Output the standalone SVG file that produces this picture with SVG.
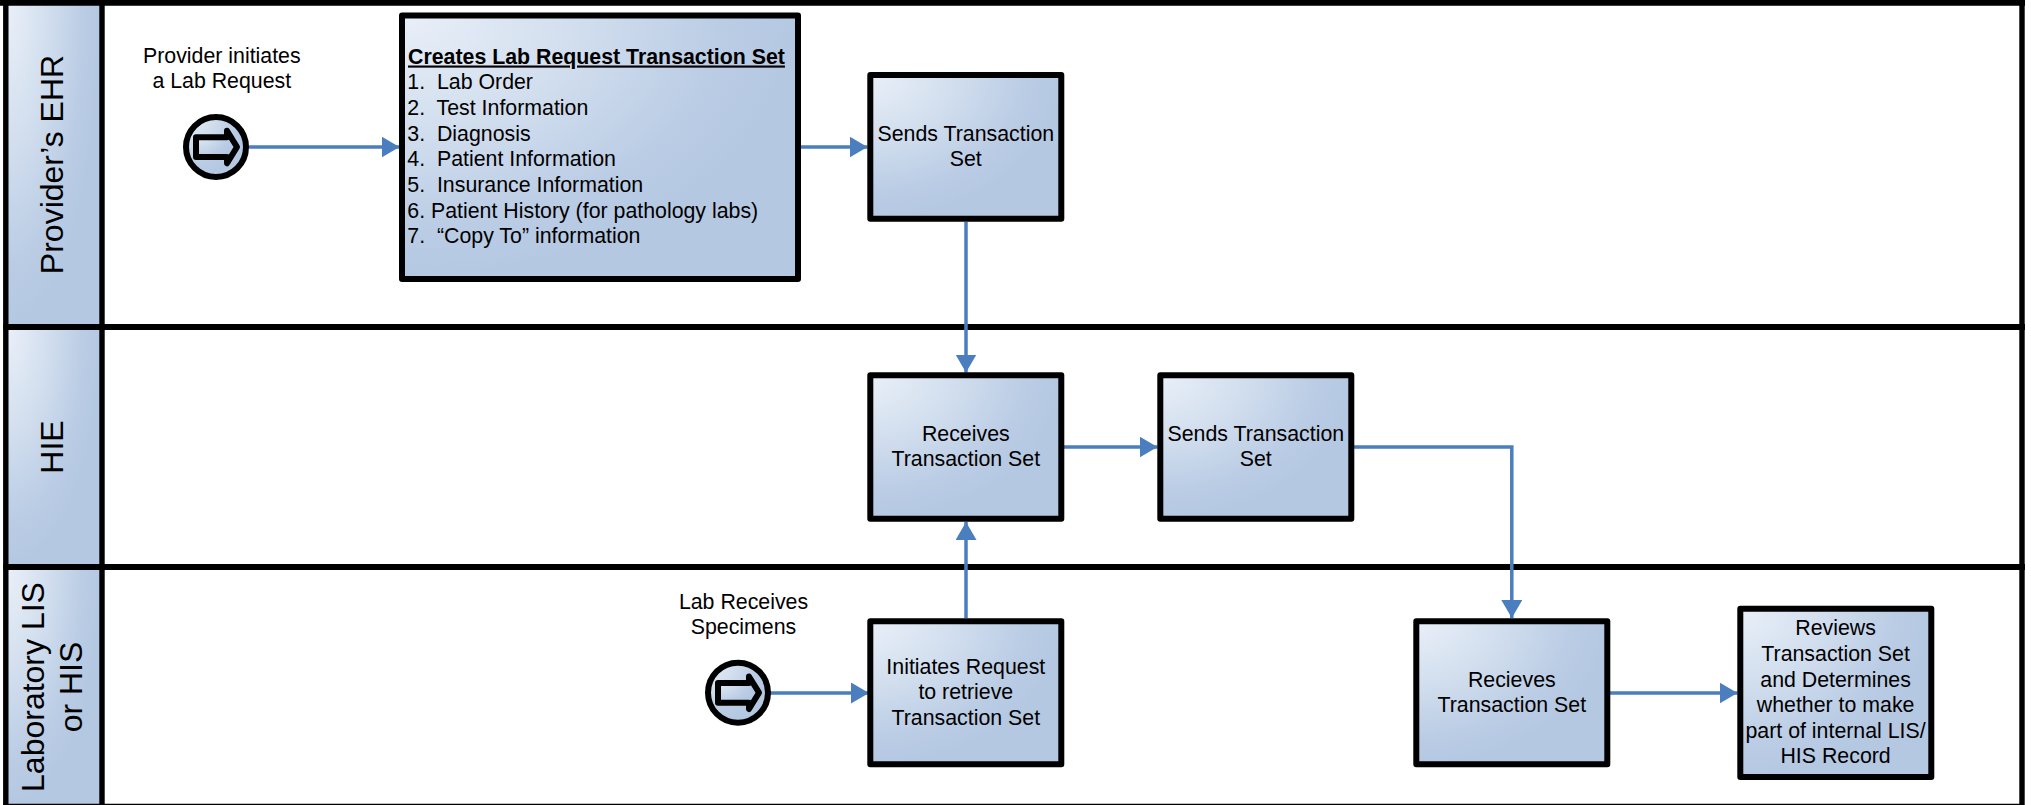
<svg xmlns="http://www.w3.org/2000/svg" width="2031" height="805" viewBox="0 0 2031 805">
<style>
text{font-family:"Liberation Sans",Arial,sans-serif;fill:#000;font-size:21.33px}
.c{text-anchor:middle}
.lane{font-size:32px;text-anchor:middle}
.box{fill:url(#g);stroke:#000;stroke-width:6;stroke-linejoin:round}
.hdr{fill:url(#g)}
.frame{fill:none;stroke:#000;stroke-width:6}
.conn{fill:none;stroke:#4a7ebf;stroke-width:3.500}
.ico{fill:url(#g);stroke:#000;stroke-width:6;stroke-linejoin:round}
</style>
<defs>
<radialGradient id="g" cx="0" cy="0" r="1" gradientUnits="objectBoundingBox">
<stop offset="0" stop-color="#e9eff8"/><stop offset="0.4" stop-color="#d4e0ef"/><stop offset="0.8" stop-color="#bbcde5"/><stop offset="1" stop-color="#b5c8e2"/>
</radialGradient>
<marker id="a" markerUnits="userSpaceOnUse" markerWidth="20" markerHeight="22" refX="18" refY="10.500" orient="auto"><path d="M0 0L18 10.500L0 21Z" fill="#4a7ebf"/></marker>
</defs>
<rect width="2031" height="805" fill="#fff"/>
<g id="lanes">
<rect id="lane-h1" class="hdr" x="8" y="5" width="92" height="319"/>
<rect id="lane-h2" class="hdr" x="8" y="330" width="92" height="234"/>
<rect id="lane-h3" class="hdr" x="8" y="570" width="92" height="234"/>
<path d="M0 2.750H2025M3.300 327H2025M3.300 567H2025" class="frame"/>
<path d="M5.800 0V805M102 0V805M2022 0V805" fill="none" stroke="#000" stroke-width="5.400"/>
<path d="M3 804.500H2022" fill="none" stroke="#000" stroke-width="1.500"/>
<text class="lane" transform="translate(63,164.500) rotate(-90)">Provider’s EHR</text>
<text class="lane" transform="translate(63,447) rotate(-90)">HIE</text>
<text class="lane" transform="translate(44,687) rotate(-90)">Laboratory LIS</text>
<text class="lane" transform="translate(82,687) rotate(-90)">or HIS</text>
</g>
<g id="connectors">
<path class="conn" d="M249 147H399.500" marker-end="url(#a)"/>
<path class="conn" d="M801 147H867.500" marker-end="url(#a)"/>
<path class="conn" d="M966 222V372.500" marker-end="url(#a)"/>
<path class="conn" d="M1064 447H1157.500" marker-end="url(#a)"/>
<path class="conn" d="M1354 447H1511.800V618" marker-end="url(#a)"/>
<path class="conn" d="M966 618V522" marker-end="url(#a)"/>
<path class="conn" d="M767 693H869" marker-end="url(#a)"/>
<path class="conn" d="M1610 693H1737.500" marker-end="url(#a)"/>
</g>
<g id="start1">
<circle cx="216" cy="147" r="30" class="ico"/>
<path class="ico" d="M196 137.300H227V130.800L237 147L227 163.300V157H196Z"/>
<text class="c" x="221.800" y="63">Provider initiates</text>
<text class="c" x="221.800" y="88.300">a Lab Request</text>
</g>
<g id="start2">
<circle cx="738" cy="692.700" r="30" class="ico"/>
<path class="ico" d="M718 683H749V676.500L759 692.700L749 709V702.700H718Z"/>
<text class="c" x="743.500" y="608.700">Lab Receives</text>
<text class="c" x="743.500" y="633.700">Specimens</text>
</g>
<g id="create">
<rect class="box" x="402" y="15.500" width="396" height="263.500"/>
<text x="408" y="63.500" font-weight="bold" text-decoration="underline">Creates Lab Request Transaction Set</text>
<text x="407.300" y="88.800" xml:space="preserve">1.  Lab Order</text>
<text x="407.300" y="115" xml:space="preserve">2.  Test Information</text>
<text x="407.300" y="140.800" xml:space="preserve">3.  Diagnosis</text>
<text x="407.300" y="166.300" xml:space="preserve">4.  Patient Information</text>
<text x="407.300" y="191.800" xml:space="preserve">5.  Insurance Information</text>
<text x="407.300" y="217.500" xml:space="preserve">6. Patient History (for pathology labs)</text>
<text x="407.300" y="243.200" xml:space="preserve">7.  “Copy To” information</text>
</g>
<g id="sends1">
<rect class="box" x="870.300" y="75" width="191" height="143.700"/>
<text class="c" x="965.800" y="141">Sends Transaction</text>
<text class="c" x="965.800" y="166">Set</text>
</g>
<g id="receives1">
<rect class="box" x="870.300" y="375.300" width="191" height="143.400"/>
<text class="c" x="965.800" y="441">Receives</text>
<text class="c" x="965.800" y="466">Transaction Set</text>
</g>
<g id="sends2">
<rect class="box" x="1160.300" y="375.300" width="191" height="143.400"/>
<text class="c" x="1255.800" y="441">Sends Transaction</text>
<text class="c" x="1255.800" y="466">Set</text>
</g>
<g id="initiates">
<rect class="box" x="870.300" y="621.300" width="191" height="143"/>
<text class="c" x="965.800" y="674">Initiates Request</text>
<text class="c" x="965.800" y="699.300">to retrieve</text>
<text class="c" x="965.800" y="725">Transaction Set</text>
</g>
<g id="recieves2">
<rect class="box" x="1416.300" y="621.300" width="191" height="143"/>
<text class="c" x="1511.800" y="686.700">Recieves</text>
<text class="c" x="1511.800" y="712">Transaction Set</text>
</g>
<g id="reviews">
<rect class="box" x="1740.300" y="608.700" width="191" height="168.300"/>
<text class="c" x="1835.600" y="634.500">Reviews</text>
<text class="c" x="1835.600" y="660.500">Transaction Set</text>
<text class="c" x="1835.600" y="686.500">and Determines</text>
<text class="c" x="1835.600" y="712">whether to make</text>
<text class="c" x="1835.600" y="737.700">part of internal LIS/</text>
<text class="c" x="1835.600" y="762.700">HIS Record</text>
</g>
</svg>
